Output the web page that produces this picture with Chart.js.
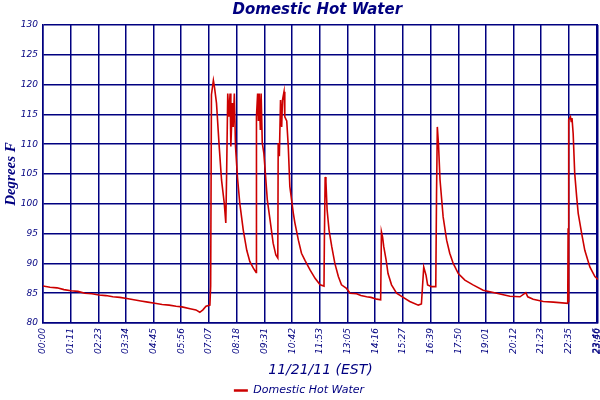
<!DOCTYPE html>
<html>
<head>
<meta charset="utf-8">
<script src="https://cdn.jsdelivr.net/npm/chart.js@4.4.0/dist/chart.umd.min.js"></script>
<style>
  html, body { margin: 0; padding: 0; background: #fff; }
  #wrap { width: 600px; height: 400px; }
</style>
</head>
<body>
<div id="wrap"><canvas id="dhwChart"></canvas></div>
<script>
// readings: minutes after midnight, temperature in degrees F
const minutes = [
  0, 18, 36, 54, 72, 90, 108, 126, 144, 162, 180, 198, 216, 234, 252, 270, 288, 307, 325, 343,
  358, 379, 394, 404, 412, 420, 430, 432, 434, 439, 442, 447, 454, 460, 467, 471, 473, 476, 479, 482,
  484, 488, 490, 493, 496, 501, 507, 516, 525, 533, 542, 549, 550, 553, 555, 557, 560, 562, 565, 569,
  573, 578, 585, 593, 600, 605, 606, 609, 612, 615, 617, 621, 623, 628, 632, 636, 645, 649, 658, 666,
  675, 688, 701, 714, 724, 725, 727, 729, 732, 737, 744, 752, 761, 769, 782, 791, 808, 819, 834, 845,
  860, 870, 872, 875, 878, 884, 889, 898, 911, 928, 945, 967, 975, 981, 987, 991, 1001, 1012, 1014, 1016,
  1019, 1023, 1031, 1040, 1048, 1057, 1070, 1087, 1108, 1134, 1169, 1203, 1229, 1244, 1249, 1263, 1289, 1315, 1352, 1353,
  1354, 1355, 1359, 1361, 1363, 1366, 1370, 1375, 1379, 1388, 1396, 1409, 1422, 1430
];
const temps = [
  86.2, 86.0, 85.9, 85.6, 85.4, 85.3, 85.0, 84.9, 84.7, 84.6, 84.4, 84.3, 84.1, 83.9, 83.7, 83.5, 83.3, 83.1, 83.0, 82.8,
  82.7, 82.4, 82.2, 81.8, 82.2, 82.8, 83.0, 86.2, 118.3, 120.7, 119.5, 116.9, 109.6, 104.0, 100.1, 96.8, 104.5, 118.5, 114.6, 118.5,
  109.6, 116.9, 112.9, 118.5, 109.6, 104.5, 100.1, 95.6, 92.2, 90.3, 89.2, 88.5, 114.6, 118.5, 113.9, 118.5, 112.4, 118.5, 110.2, 108.5,
  105.1, 100.6, 97.3, 93.4, 91.4, 90.9, 110.2, 108.0, 117.4, 112.9, 117.4, 118.8, 114.6, 113.9, 109.6, 102.9, 98.4, 96.8, 93.9, 91.7,
  90.5, 88.9, 87.5, 86.4, 86.2, 93.9, 104.5, 103.7, 99.0, 95.6, 92.8, 90.0, 87.8, 86.4, 85.8, 85.0, 84.9, 84.6, 84.4, 84.3,
  84.0, 83.9, 95.3, 94.4, 92.8, 90.6, 88.3, 86.4, 85.0, 84.3, 83.6, 83.0, 83.2, 89.4, 88.0, 86.4, 86.1, 86.1, 101.8, 112.9,
  110.0, 104.0, 97.8, 93.9, 91.7, 90.0, 88.3, 87.2, 86.4, 85.5, 85.0, 84.5, 84.4, 85.1, 84.4, 84.0, 83.6, 83.5, 83.3, 95.9,
  83.5, 114.1, 114.6, 113.8, 114.4, 111.8, 105.1, 101.2, 98.4, 95.0, 92.2, 89.4, 87.8, 87.3
];
const xTicks = [0, 71, 143, 214, 285, 356, 427, 498, 571, 642, 713, 785, 856, 927, 999, 1070, 1141, 1212, 1283, 1355, 1426, 1430];
const yMin = 80, yMax = 130, yStep = 5;

const navy = '#000080';
const lineRed = '#cc0000';

function hhmm(m) {
  const h = Math.floor(m / 60), mm = m % 60;
  return String(h).padStart(2, '0') + ':' + String(mm).padStart(2, '0');
}

const ctx = document.getElementById('dhwChart').getContext('2d');
new Chart(ctx, {
  type: 'line',
  data: {
    datasets: [{
      label: 'Domestic Hot Water',
      data: minutes.map((m, i) => ({ x: m, y: temps[i] })),
      borderColor: lineRed,
      backgroundColor: lineRed,
      borderWidth: 1.6,
      pointRadius: 0,
      tension: 0,
      fill: false
    }]
  },
  options: {
    responsive: true,
    maintainAspectRatio: false,
    animation: false,
    layout: { padding: { left: 0, right: 2, top: 0, bottom: -6 } },
    plugins: {
      title: {
        display: true,
        text: '       Domestic Hot Water',
        color: navy,
        font: { family: "'DejaVu Sans', sans-serif", size: 15, style: 'italic' },
        padding: { top: 1, bottom: 6 }
      },
      legend: {
        position: 'bottom',
        labels: {
          color: navy,
          font: { family: "'DejaVu Sans', sans-serif", size: 11, style: 'italic' },
          usePointStyle: true,
          pointStyleWidth: 14,
          padding: 4,
          generateLabels: chart => chart.data.datasets.map((ds, i) => ({
            text: ds.label,
            fillStyle: lineRed,
            strokeStyle: lineRed,
            lineWidth: 2.5,
            pointStyle: 'line',
            fontColor: navy,
            datasetIndex: i
          }))
        }
      },
      tooltip: { enabled: false }
    },
    scales: {
      x: {
        type: 'linear',
        min: 0,
        max: 1430,
        afterBuildTicks: scale => { scale.ticks = xTicks.map(v => ({ value: v })); },
        afterFit: scale => {
          scale.height = 58;
          scale.paddingLeft = 0;
          scale.paddingRight = 0;
        },
        ticks: {
          autoSkip: false,
          minRotation: 90,
          maxRotation: 90,
          padding: 5,
          color: navy,
          font: { family: "'DejaVu Sans', sans-serif", size: 9, style: 'italic' },
          callback: v => hhmm(v)
        },
        grid: { color: navy, lineWidth: 1.5, drawTicks: false },
        border: { color: navy, width: 1.5 },
        title: {
          display: true,
          text: '11/21/11 (EST)',
          color: navy,
          font: { family: "'DejaVu Sans', sans-serif", size: 14, style: 'italic' },
          padding: { top: 0, bottom: 2 }
        }
      },
      y: {
        min: yMin,
        max: yMax,
        afterFit: scale => { scale.width = 43; },
        ticks: {
          stepSize: yStep,
          padding: 5,
          color: navy,
          font: { family: "'DejaVu Sans', sans-serif", size: 9, style: 'italic' }
        },
        grid: { color: navy, lineWidth: 1.5, drawTicks: false },
        border: { color: navy, width: 1.5 },
        title: {
          display: true,
          text: 'Degrees F',
          color: navy,
          font: { family: "'Liberation Serif', serif", size: 15, style: 'italic', weight: 'bold' },
          padding: { top: 2, bottom: 0 }
        }
      }
    }
  }
});
</script>
</body>
</html>
